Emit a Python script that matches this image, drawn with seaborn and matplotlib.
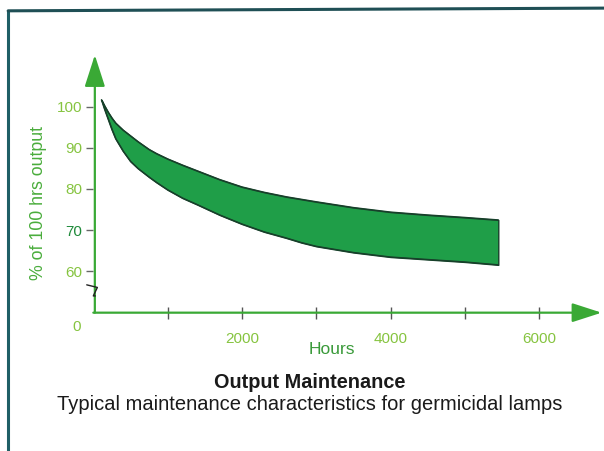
import matplotlib
matplotlib.use("Agg")
import matplotlib.pyplot as plt
from matplotlib.lines import Line2D
import pandas as pd
import seaborn as sns

# values
hours = [110, 150, 200, 250, 300, 400, 500, 600, 750, 850, 1000, 1200, 1400, 1700, 2000, 2300,
         2600, 2800, 3000, 3500, 4000, 4500, 5000, 5450]
upper_pct = [101.6, 100.2, 98.6, 97.2, 96.0, 94.3, 92.9, 91.5, 89.6, 88.6, 87.3, 85.8, 84.4, 82.3,
             80.5, 79.2, 78.1, 77.5, 76.9, 75.5, 74.4, 73.7, 73.1, 72.5]
lower_pct = [101.6, 99.4, 96.9, 94.4, 92.2, 89.2, 86.7, 85.0, 82.9, 81.6, 79.8, 77.8, 76.2, 73.7,
             71.5, 69.6, 68.1, 67.0, 66.1, 64.6, 63.5, 62.9, 62.3, 61.6]

x_ticks = [1000, 2000, 3000, 4000, 5000, 6000]
x_labels = ["", "2000", "", "4000", "", "6000"]
y_ticks = [60, 70, 80, 90, 100]
y_labels = ["60", "70", "80", "90", "100"]

GREEN_AXIS = "#3aa935"
GREEN_TEXT = "#86c440"
BAND = "#1f9e48"
EDGE = "#17402a"

df = pd.DataFrame({"hours": hours, "upper": upper_pct, "lower": lower_pct})

sns.set_theme(style="white")
plt.rcParams["font.family"] = ["Liberation Sans", "DejaVu Sans"]

fig = plt.figure(figsize=(6.04, 4.51), dpi=100)
ax = fig.add_axes([0.1545, 0.3067, 0.839, 0.5714])

ax.fill_between(df["hours"], df["lower"], df["upper"], color=BAND, edgecolor=EDGE, linewidth=1.0, zorder=2)
sns.lineplot(data=df, x="hours", y="upper", ax=ax, color=EDGE, linewidth=1.0, zorder=3)
sns.lineplot(data=df, x="hours", y="lower", ax=ax, color=EDGE, linewidth=1.0, zorder=3)

ax.set_xlim(0, 6820)
ax.set_ylim(50, 112.5)

for side in ["top", "right", "left", "bottom"]:
    ax.spines[side].set_visible(False)

# axes with arrow heads
ax.annotate("", xy=(0.003, 1.0), xytext=(0.003, 0.0), xycoords="axes fraction",
            arrowprops=dict(arrowstyle="-|>,head_length=1.4,head_width=0.45", color=GREEN_AXIS,
                            lw=1.6, shrinkA=0, shrinkB=0, mutation_scale=14))
ax.annotate("", xy=(1.003, 0.0), xytext=(0.0, 0.0), xycoords="axes fraction",
            arrowprops=dict(arrowstyle="-|>,head_length=1.3,head_width=0.42", color=GREEN_AXIS,
                            lw=1.6, shrinkA=0, shrinkB=0, mutation_scale=14))

ax.set_xticks(x_ticks)
ax.set_xticklabels(x_labels)
ax.set_yticks(y_ticks)
ax.set_yticklabels(y_labels)
ax.tick_params(axis="x", direction="inout", length=8, width=1.0, color="#555555",
               pad=10, labelsize=11, labelcolor=GREEN_TEXT, bottom=True)
ax.tick_params(axis="y", direction="out", length=5, width=1.0, color="#666666",
               pad=3, labelsize=11, labelcolor=GREEN_TEXT, left=True)
ax.get_yticklabels()[1].set_color("#1f8a3a")

ax.text(-220, 46.5, "0", color=GREEN_TEXT, fontsize=11, ha="center", va="center", clip_on=False)

# axis break mark
ax.plot([-0.013, 0.008, 0.0, 0.004], [0.108, 0.098, 0.065, 0.065], transform=ax.transAxes,
        color="#222222", lw=1.0, clip_on=False, zorder=4)

ax.set_xlabel("")
ax.set_ylabel("")
fig.text(0.064, 0.55, "% of 100 hrs output", rotation=90, color="#4aad3c", fontsize=12.8,
         ha="center", va="center")
fig.text(0.55, 0.224, "Hours", color="#3a9a3a", fontsize=12.5, ha="center", va="center")

fig.text(0.513, 0.151, "Output Maintenance", color="#1a1a1a", fontsize=14.3, fontweight="bold",
         ha="center", va="center")
fig.text(0.513, 0.102, "Typical maintenance characteristics for germicidal lamps", color="#1a1a1a",
         fontsize=14.5, ha="center", va="center")

# page frame (left and top rules)
fig.add_artist(Line2D([0.0135, 0.0135], [0.0, 0.976], color="#1f5f66", lw=2.2))
fig.add_artist(Line2D([0.0135, 1.0], [0.976, 0.982], color="#1f4f55", lw=2.2))

fig.savefig("out.png", dpi=100, facecolor="white")
